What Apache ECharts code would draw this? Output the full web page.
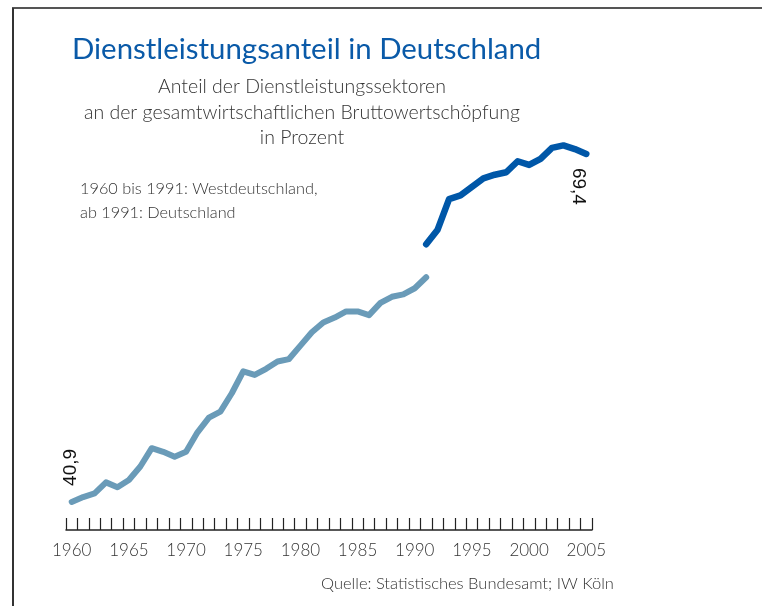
<!DOCTYPE html>
<html>
<head>
<meta charset="utf-8">
<script src="https://cdn.jsdelivr.net/npm/echarts@6/dist/echarts.min.js"></script>
<style>
html,body{margin:0;padding:0;background:#fff;}
#chart{width:762px;height:606px;}
</style>
</head>
<body>
<div id="chart"></div>
<script>
var years = [];
for (var y = 1960; y <= 2005; y++) years.push(String(y));

var westValues = [40.9, 41.3, 41.6, 42.5, 42.1, 42.7, 43.8, 45.3, 45.0, 44.6,
  45.0, 46.6, 47.8, 48.3, 49.8, 51.6, 51.3, 51.8, 52.4, 52.6,
  53.7, 54.8, 55.6, 56.0, 56.5, 56.5, 56.2, 57.2, 57.7, 57.9,
  58.4, 59.3];
var gesamtValues = [62.0, 63.2, 65.7, 66.0, 66.7, 67.4, 67.7, 67.9, 68.8, 68.5,
  69.0, 69.9, 70.1, 69.8, 69.4];

var westData = years.map(function (yr, i) {
  if (i >= westValues.length) return null;
  if (i === 0) {
    return {
      value: westValues[i],
      label: {
        show: true, position: 'top', distance: 16, rotate: 90,
        align: 'left', verticalAlign: 'middle', offset: [0, -1],
        formatter: '40,9', fontFamily: 'Liberation Sans', fontSize: 19, color: '#111'
      }
    };
  }
  return westValues[i];
});
var startIdx = 31;
var gesamtData = years.map(function (yr, i) {
  var j = i - startIdx;
  if (j < 0) return null;
  if (j === gesamtValues.length - 1) {
    return {
      value: gesamtValues[j],
      label: {
        show: true, position: 'bottom', distance: 12, rotate: -90,
        align: 'left', verticalAlign: 'middle', offset: [2, 8],
        formatter: '69,4', fontFamily: 'Liberation Sans', fontSize: 19, color: '#111'
      }
    };
  }
  return gesamtValues[j];
});

var chart = echarts.init(document.getElementById('chart'), null, {renderer: 'canvas'});
var txtFont = 'Lato, "Open Sans", sans-serif';
chart.setOption({
  animation: false,
  backgroundColor: '#ffffff',
  title: [
    {text: 'Dienstleistungsanteil in Deutschland', left: 67, top: 30,
     textStyle: {fontFamily: txtFont, fontSize: 29.4, fontWeight: 'normal', color: '#0a5aa8'}},
    {text: 'Anteil der Dienstleistungssektoren\nan der gesamtwirtschaftlichen Bruttowertschöpfung\nin Prozent',
     left: 297, top: 69, textAlign: 'center',
     textStyle: {fontFamily: txtFont, fontSize: 19.5, fontWeight: 300, color: '#333', lineHeight: 25.5, align: 'center'}},
    {text: '1960 bis 1991: Westdeutschland,\nab 1991: Deutschland', left: 75, top: 172,
     textStyle: {fontFamily: txtFont, fontSize: 16.3, fontWeight: 300, color: '#333', lineHeight: 24}},
    {text: 'Quelle: Statistisches Bundesamt; IW Köln', left: 316, top: 570,
     textStyle: {fontFamily: txtFont, fontSize: 16.5, fontWeight: 300, color: '#333'}}
  ],
  graphic: [
    {type: 'line', shape: {x1: 12, y1: 8, x2: 762, y2: 8}, style: {stroke: '#555', lineWidth: 2}},
    {type: 'line', shape: {x1: 13, y1: 8, x2: 13, y2: 606}, style: {stroke: '#333', lineWidth: 2}}
  ],
  grid: {left: 66, right: 170, top: 122.2, bottom: 76},
  xAxis: {
    type: 'category', data: years, boundaryGap: true,
    axisLine: {lineStyle: {color: '#222', width: 1.5}},
    axisTick: {show: true, inside: true, length: 12, interval: 0, lineStyle: {color: '#222', width: 1.2}},
    axisLabel: {interval: 4, margin: 12, fontFamily: txtFont, fontSize: 17, fontWeight: 300, color: '#333'},
    splitLine: {show: false}
  },
  yAxis: {
    type: 'value', min: 38.6, max: 72, show: false, splitLine: {show: false}
  },
  series: [
    {type: 'line', data: westData, symbol: 'circle', symbolSize: 0, showSymbol: true, connectNulls: false,
     itemStyle: {color: '#6a9bb8'},
     lineStyle: {color: '#6a9bb8', width: 6, cap: 'round', join: 'round'}, z: 3},
    {type: 'line', data: gesamtData, symbol: 'circle', symbolSize: 0, showSymbol: true, connectNulls: false,
     itemStyle: {color: '#0057a8'},
     lineStyle: {color: '#0057a8', width: 6.5, cap: 'round', join: 'round'}, z: 4}
  ]
});
</script>
</body>
</html>
